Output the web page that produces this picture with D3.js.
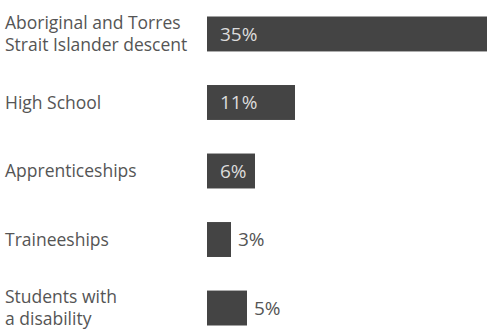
<!DOCTYPE html>
<html><head><meta charset="utf-8">
<script src="https://cdn.jsdelivr.net/npm/d3@7"></script>
<style>html,body{margin:0;padding:0;background:#fff;overflow:hidden}</style>
</head><body>
<script>
const categories = [["Aboriginal and Torres","Strait Islander descent"],["High School"],["Apprenticeships"],["Traineeships"],["Students with","a disability"]];
const values = [35, 11, 6, 3, 5];
const valueLabels = ["35%", "11%", "6%", "3%", "5%"];

const W = 491, H = 336;
const svg = d3.select("body").append("svg").attr("width", W).attr("height", H);
const x = d3.scaleLinear().domain([0, 35]).range([207, 487]);
const y = d3.scaleBand().domain(d3.range(values.length)).range([16.5, 325.5]).paddingInner(0.49).paddingOuter(0);

const font = "'Open Sans', sans-serif";
const g = svg.selectAll("g.row").data(values).join("g").attr("class","row");
g.append("rect").attr("x", x(0)).attr("y", (d,i)=>y(i)).attr("width", d=>x(d)-x(0)).attr("height", y.bandwidth()).attr("fill", "#444444");

g.append("text")
  .attr("x", (d,i)=> d >= 6 ? x(0)+13 : x(d)+7)
  .attr("y", (d,i)=> y(i)+y.bandwidth()/2)
  .attr("dy","0.36em")
  .attr("font-family", font).attr("font-size", 19)
  .attr("fill", d=> d>=6 ? "#dcdcdc" : "#555")
  .text((d,i)=>valueLabels[i]);

const lab = svg.selectAll("text.cat").data(categories).join("text").attr("class","cat")
  .attr("font-family", font).attr("font-size", 17.5).attr("fill", "#555")
  .attr("x", 5)
  .attr("y", (d,i)=> y(i)+y.bandwidth()/2);
lab.selectAll("tspan").data(d=>d.map((t,j)=>({t,j,n:d.length}))).join("tspan")
  .attr("x", 5)
  .attr("dy", (d)=> d.j===0 ? ((-(d.n-1)*1.25/2)+0.35)+"em" : "1.25em")
  .text(d=>d.t);
</script>
</body></html>
